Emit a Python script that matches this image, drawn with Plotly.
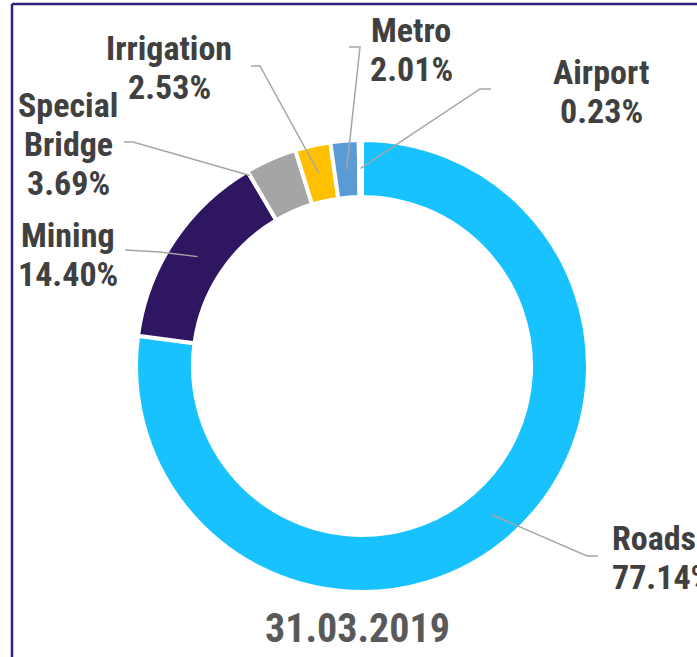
import plotly.graph_objects as go
import math

W, H = 697, 657

# ---- data ----
categories = ["Roads", "Mining", "Special Bridge", "Irrigation", "Metro", "Airport"]
shares = [77.14, 14.40, 3.69, 2.53, 2.01, 0.23]
label_lines = [["Roads", "77.14%"], ["Mining", "14.40%"], ["Special", "Bridge", "3.69%"],
               ["Irrigation", "2.53%"], ["Metro", "2.01%"], ["Airport", "0.23%"]]
date_label = "31.03.2019"

colors = ["#17C2FE", "#2F1660", "#A5A5A5", "#FFC000", "#5B9BD5", "#264478"]

# ---- geometry (pixels) ----
cx, cy = 362, 366
R = 226
line_w = 4
hole = 0.748
mid_r = (R + hole * R) / 2

# label layout: (x, y of first line, xanchor), elbow points, anchor (fraction in slice, radius)
label_pos = {
    "Roads": (610, 538, "left"),
    "Mining": (68, 235, "center"),
    "Special Bridge": (68, 105, "center"),
    "Irrigation": (169, 48, "center"),
    "Metro": (411, 30, "center"),
    "Airport": (601, 72, "center"),
}
elbows = {
    "Roads": [(587, 556), (598, 556)],
    "Mining": [(160, 252), (125, 250)],
    "Special Bridge": [(133, 142), (124, 142)],
    "Irrigation": [(260, 66), (251, 66)],
    "Metro": [(360, 47), (349, 47)],
    "Airport": [(480, 89), (491, 89)],
}
anchors = {
    "Special Bridge": (0.0, R - 5),
}
line_gap = 39
FONT = "Liberation Sans Narrow, Arial Narrow, Roboto Condensed, Roboto, sans-serif"

fig = go.Figure()

fig.add_trace(go.Pie(
    values=shares, labels=categories, sort=False, direction="clockwise", rotation=0,
    hole=hole, textinfo="none", hoverinfo="label+percent",
    marker=dict(colors=colors, line=dict(color="white", width=line_w)),
    domain=dict(x=[(cx - R) / W, (cx + R) / W], y=[1 - (cy + R) / H, 1 - (cy - R) / H]),
    showlegend=False,
))
# invisible trace to activate the pixel-space axes
fig.add_trace(go.Scatter(x=[0, W], y=[0, H], mode="markers", marker=dict(opacity=0),
                         hoverinfo="skip", showlegend=False))

total = sum(shares)
cum = 0.0
for cat, v, lines in zip(categories, shares, label_lines):
    frac, rad = anchors.get(cat, (0.5, mid_r))
    a = 2 * math.pi * (cum + v * frac) / total
    px = cx + rad * math.sin(a)
    py = cy - rad * math.cos(a)
    cum += v
    pts = [(px, py)] + elbows[cat]
    path = "M " + " L ".join("%.2f,%.2f" % p for p in pts)
    fig.add_shape(type="path", path=path, xref="x", yref="y", layer="above",
                  line=dict(color="#A6A6A6", width=1.5))
    lx, ly, xa = label_pos[cat]
    for i, t in enumerate(lines):
        fig.add_annotation(
            x=lx, y=ly + i * line_gap, xref="x", yref="y", text="<b>%s</b>" % t,
            showarrow=False, xanchor=xa, yanchor="middle",
            font=dict(family=FONT, size=34, color="#404040"),
        )

fig.add_annotation(
    x=357, y=628, xref="x", yref="y", text="<b>%s</b>" % date_label, showarrow=False,
    xanchor="center", yanchor="middle",
    font=dict(family=FONT, size=40, color="#595959"),
)

# frame (left and top edges visible)
fig.add_shape(type="line", xref="x", yref="y", x0=12, y0=4, x1=12, y1=H, line=dict(color="#33207A", width=2.5))
fig.add_shape(type="line", xref="x", yref="y", x0=12, y0=4, x1=W, y1=4, line=dict(color="#33207A", width=2.5))

fig.update_layout(
    width=W, height=H, margin=dict(l=0, r=0, t=0, b=0),
    paper_bgcolor="white", plot_bgcolor="rgba(0,0,0,0)",
    xaxis=dict(range=[0, W], visible=False, fixedrange=True, domain=[0, 1]),
    yaxis=dict(range=[H, 0], visible=False, fixedrange=True, domain=[0, 1]),
)

fig.write_html("out.html", config={"displayModeBar": False},
               post_script="document.body.style.margin='0';document.body.style.overflow='hidden';")
